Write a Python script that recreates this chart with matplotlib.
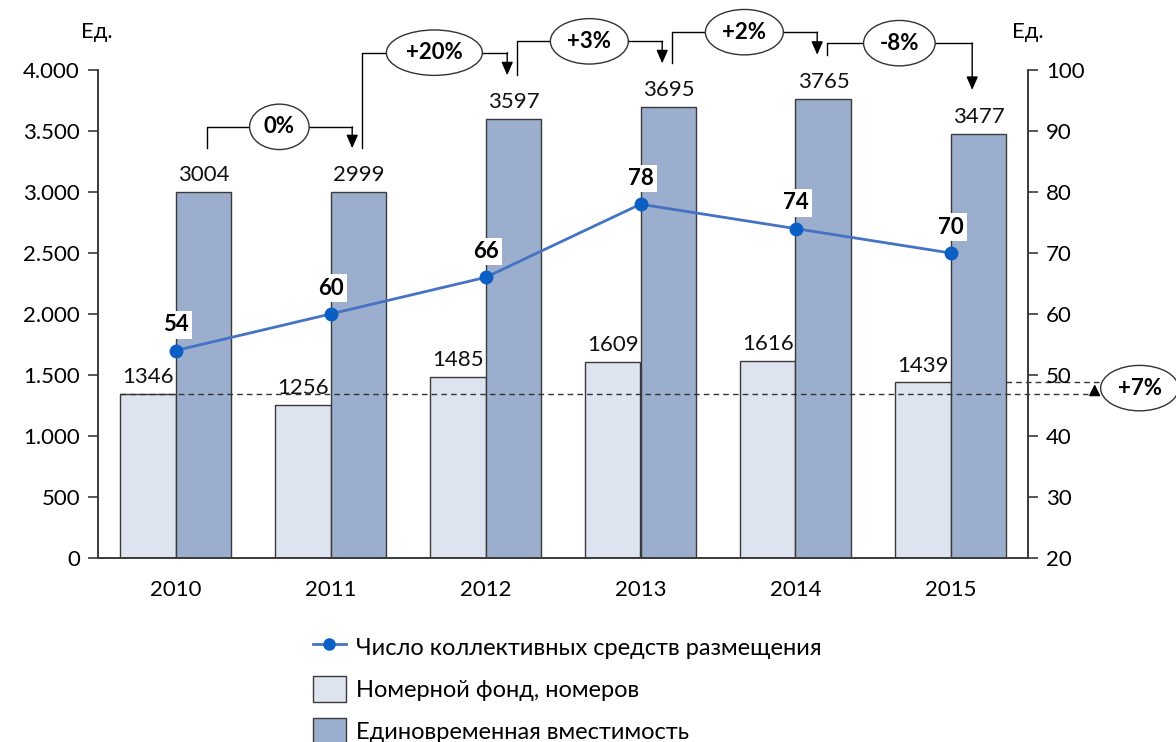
import matplotlib.pyplot as plt
import numpy as np
from matplotlib.lines import Line2D
from matplotlib.patches import Patch

plt.rcParams['font.family'] = ['Lato', 'DejaVu Sans']

years = ['2010', '2011', '2012', '2013', '2014', '2015']
rooms = [1346, 1256, 1485, 1609, 1616, 1439]          # Номерной фонд
capacity = [3004, 2999, 3597, 3695, 3765, 3477]       # Единовременная вместимость
facilities = [54, 60, 66, 78, 74, 70]                 # Число КСР
changes = ['0%', '+20%', '+3%', '+2%', '-8%']
total_change = '+7%'

light = '#dde4ef'
dark = '#9caecd'
edge = '#3a3a3a'
line_c = '#4472c4'
dot_c = '#0b5fc4'
fs = 16

fig = plt.figure(figsize=(11.76, 7.42), dpi=100)
ax = fig.add_axes([98 / 1176, 184 / 742, 930 / 1176, 488 / 742])
ax2 = ax.twinx()

x = np.arange(len(years))
w = 0.36
ax.bar(x - w / 2, rooms, w, color=light, edgecolor=edge, linewidth=1, zorder=2)
ax.bar(x + w / 2, capacity, w, color=dark, edgecolor=edge, linewidth=1, zorder=2)

for i in range(len(years)):
    ax.text(x[i] - w / 2, rooms[i] + 55, str(rooms[i]), ha='center', va='bottom',
            fontsize=fs, color='#111111')
    ax.text(x[i] + w / 2, capacity[i] + 55, str(capacity[i]), ha='center', va='bottom',
            fontsize=fs, color='#111111')

ax.set_xlim(-0.5, len(years) - 0.5)
ax.set_ylim(0, 4000)
ax.set_yticks(np.arange(0, 4001, 500))
ax.set_yticklabels([f'{v:,}'.replace(',', '.') for v in range(0, 4001, 500)])
ax.set_xticks(x)
ax.set_xticklabels(years)
ax.tick_params(axis='x', length=0, labelsize=fs, pad=16)
ax.tick_params(axis='y', length=7, width=1.2, labelsize=fs, pad=6, color=edge)

ax2.plot(x, facilities, color=line_c, lw=2, marker='o', ms=9, mfc=dot_c, mec=dot_c,
         zorder=5)
for i, v in enumerate(facilities):
    ax2.annotate(str(v), (x[i], v), xytext=(0, 11), textcoords='offset points',
                 ha='center', va='bottom', fontsize=fs, fontweight='bold',
                 bbox=dict(boxstyle='square,pad=0.15', fc='white', ec='none'))
ax2.set_ylim(20, 100)
ax2.set_yticks(np.arange(20, 101, 10))
ax2.tick_params(axis='y', length=7, width=1.2, labelsize=fs, pad=6, color=edge)

for a in (ax, ax2):
    a.spines['top'].set_visible(False)
    for s in ('left', 'right', 'bottom'):
        a.spines[s].set_color(edge)
        a.spines[s].set_linewidth(1.2)
ax.set_zorder(ax2.get_zorder() - 1)
ax2.patch.set_visible(False)

# brackets with change percentages
bumps = [170, 185, 180, 185, 95]
for i, lab in enumerate(changes):
    x1 = x[i] + 0.2
    x2 = x[i + 1] + 0.14
    y1 = capacity[i] + 360
    y2 = capacity[i + 1] + 360
    top = max(y1, y2) + bumps[i]
    ax.plot([x1, x1, x2], [y1, top, top], color='black', lw=1, clip_on=False, zorder=6)
    ax.annotate('', xy=(x2, y2), xytext=(x2, top),
                arrowprops=dict(arrowstyle='-|>,head_length=0.8,head_width=0.35',
                                color='black', lw=1, shrinkA=0, shrinkB=0),
                annotation_clip=False, zorder=6)
    ax.text((x1 + x2) / 2, top, lab, ha='center', va='center', fontsize=fs,
            fontweight='bold', zorder=7,
            bbox=dict(boxstyle='ellipse,pad=0.25', fc='white', ec='#333333', lw=1))

# overall change of rooms
xr = 5.96
ax.plot([x[0] - w, xr], [rooms[0], rooms[0]], color='#333333', lw=1, ls=(0, (4, 3)),
        clip_on=False, zorder=8)
ax.plot([x[-1] + w, xr], [rooms[-1], rooms[-1]], color='#333333', lw=1, ls=(0, (4, 3)),
        clip_on=False, zorder=8)
ax.annotate('', xy=(5.93, rooms[-1] - 15), xytext=(5.93, rooms[0]),
            arrowprops=dict(arrowstyle='-|>,head_length=0.7,head_width=0.35',
                            color='black', lw=1, shrinkA=0, shrinkB=0),
            annotation_clip=False, zorder=8)
ax.text(6.22, (rooms[0] + rooms[-1]) / 2, total_change, ha='center', va='center',
        fontsize=fs, fontweight='bold', zorder=9,
        bbox=dict(boxstyle='ellipse,pad=0.25', fc='white', ec='#333333', lw=1))

fig.text(97 / 1176, 1 - 32 / 742, 'Ед.', ha='center', va='center', fontsize=fs)
fig.text(1028 / 1176, 1 - 32 / 742, 'Ед.', ha='center', va='center', fontsize=fs)

handles = [
    Line2D([], [], color=line_c, lw=2, marker='o', ms=8, mfc=dot_c, mec=dot_c),
    Patch(fc=light, ec=edge, lw=1),
    Patch(fc=dark, ec=edge, lw=1),
]
labels = ['Число коллективных средств размещения', 'Номерной фонд, номеров',
          'Единовременная вместимость']
fig.legend(handles, labels, loc='upper left', bbox_to_anchor=(301 / 1176, 1 - 622 / 742),
           frameon=False, fontsize=17, handlelength=1.4, handleheight=1.35,
           labelspacing=0.66, handletextpad=0.45, borderpad=0)

fig.savefig('out.png', dpi=100)
